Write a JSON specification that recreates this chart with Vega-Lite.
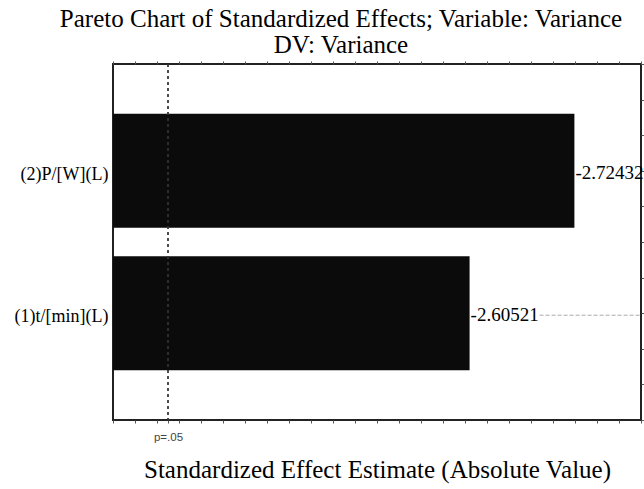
{
  "$schema": "https://vega.github.io/schema/vega-lite/v6.json",
  "width": 528,
  "height": 356,
  "autosize": {"type": "none"},
  "padding": {"left": 113, "top": 64, "right": 3, "bottom": 69},
  "background": "white",
  "config": {
    "view": {"stroke": "#222", "strokeWidth": 2},
    "axis": {"grid": false, "domain": false}
  },
  "title": {
    "text": ["Pareto Chart of Standardized Effects; Variable: Variance", "DV: Variance"],
    "font": "Liberation Serif",
    "fontSize": 25,
    "fontWeight": "normal",
    "color": "#000",
    "lineHeight": 26,
    "offset": 3,
    "dx": -36,
    "anchor": "middle",
    "frame": "group"
  },
  "data": {
    "values": [
      {"effect": "(2)P/[W](L)", "value": 2.72432, "label": "-2.72432"},
      {"effect": "(1)t/[min](L)", "value": 2.60521, "label": "-2.60521"}
    ]
  },
  "resolve": {"scale": {"y": "independent"}, "axis": {"x": "independent", "y": "independent"}},
  "layer": [
    {
      "mark": {"type": "bar", "color": "#0b0b0b"},
      "encoding": {
        "y": {
          "field": "effect", "type": "nominal", "sort": null,
          "scale": {"type": "band", "paddingInner": 0.2, "paddingOuter": 0.35},
          "axis": {"title": null, "ticks": false, "labelFont": "Liberation Serif", "labelFontSize": 18, "labelColor": "#000", "labelPadding": 5, "labelOffset": 4, "labelLimit": 200}
        },
        "x": {
          "field": "value", "type": "quantitative",
          "scale": {"domain": [2.2, 2.8], "zero": false, "nice": false},
          "axis": {
            "orient": "bottom",
            "values": [2.2, 2.225, 2.25, 2.2625, 2.275, 2.3, 2.325, 2.35, 2.375, 2.4, 2.425, 2.45, 2.475, 2.5, 2.525, 2.55, 2.575, 2.6, 2.625, 2.65, 2.675, 2.7, 2.725, 2.75, 2.775, 2.8],
            "labelExpr": "abs(datum.value - 2.2625) < 0.001 ? 'p=.05' : ''",
            "labelOverlap": false, "labelFlush": false, "labelBound": false,
            "labelFont": "Liberation Sans", "labelFontSize": 11.5, "labelColor": "#444", "labelPadding": 8,
            "tickSize": 3, "tickColor": "#555",
            "title": "Standardized Effect Estimate (Absolute Value)",
            "titleFont": "Liberation Serif", "titleFontSize": 25, "titleFontWeight": "normal", "titleColor": "#000", "titlePadding": 15
          }
        },
        "x2": {"datum": 2.2}
      }
    },
    {
      "mark": {"type": "rule", "color": "#aaa", "strokeDash": [4, 2], "strokeWidth": 1, "xOffset": 70, "yOffset": 2, "clip": true},
      "encoding": {
        "y": {"field": "effect", "type": "nominal", "sort": null, "bandPosition": 0.5, "scale": {"type": "band", "paddingInner": 0.2, "paddingOuter": 0.35}, "axis": null},
        "x": {"field": "value", "type": "quantitative", "axis": null},
        "x2": {"datum": 2.8}
      }
    },
    {
      "mark": {"type": "text", "align": "left", "baseline": "middle", "dx": 1, "dy": 2, "font": "Liberation Serif", "fontSize": 19, "color": "#000"},
      "encoding": {
        "y": {"field": "effect", "type": "nominal", "sort": null, "bandPosition": 0.5, "scale": {"type": "band", "paddingInner": 0.2, "paddingOuter": 0.35}, "axis": null},
        "x": {"field": "value", "type": "quantitative", "axis": null},
        "text": {"field": "label"}
      }
    },
    {
      "mark": {"type": "rule", "color": "#333", "strokeDash": [3, 3], "strokeWidth": 1.3},
      "encoding": {
        "x": {"datum": 2.2625, "type": "quantitative", "axis": null}
      }
    },
    {
      "mark": {"type": "point", "opacity": 0},
      "encoding": {
        "x": {
          "datum": 2.5, "type": "quantitative",
          "axis": {
            "orient": "top",
            "values": [2.2, 2.225, 2.25, 2.275, 2.3, 2.325, 2.35, 2.375, 2.4, 2.425, 2.45, 2.475, 2.5, 2.525, 2.55, 2.575, 2.6, 2.625, 2.65, 2.675, 2.7, 2.725, 2.75, 2.775, 2.8],
            "labels": false, "tickSize": 3, "tickColor": "#555", "title": null
          }
        },
        "y": {
          "datum": 5, "type": "quantitative",
          "scale": {"domain": [0, 10], "nice": false},
          "axis": {"orient": "right", "values": [0, 1, 2, 3, 4, 5, 6, 7, 8, 9, 10], "labels": false, "tickSize": 3, "tickColor": "#555", "title": null}
        }
      }
    }
  ]
}
